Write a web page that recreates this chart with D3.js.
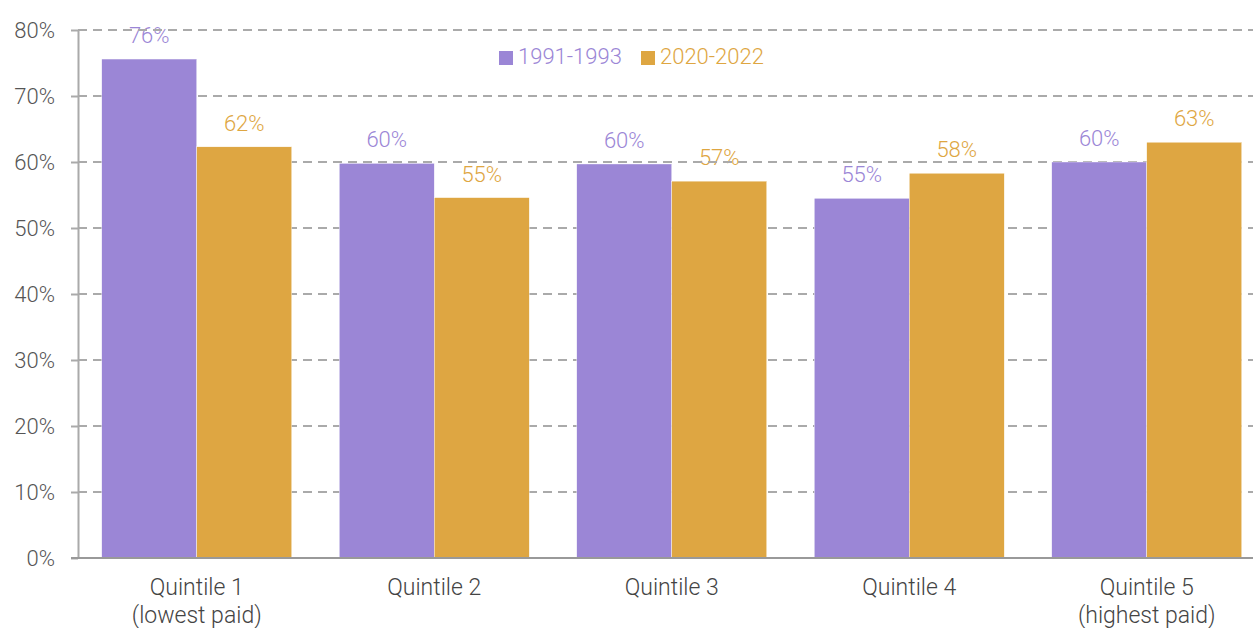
<!DOCTYPE html>
<html lang="en">
<head>
    <meta charset="UTF-8">
    <title>Quintiles</title>
    <script src="https://d3js.org/d3.v7.min.js"></script>
    <style>
        body {margin: 0; background: #fff;}
        text {font-family: Roboto, "Noto Sans", sans-serif; font-weight: 300;}
    </style>
</head>
<body>
<script>
    const width  = 1253;
    const height = 628;

    const categories = [["Quintile 1", "(lowest paid)"], ["Quintile 2"], ["Quintile 3"], ["Quintile 4"], ["Quintile 5", "(highest paid)"]];
    const seriesNames = ["1991-1993", "2020-2022"];
    const early = [75.6, 59.8, 59.7, 54.5, 60.0];
    const late  = [62.3, 54.6, 57.1, 58.3, 63.0];
    const labelsEarly = ["76%", "60%", "60%", "55%", "60%"];
    const labelsLate  = ["62%", "55%", "57%", "58%", "63%"];
    const yTicks = [0, 10, 20, 30, 40, 50, 60, 70, 80];

    const colors = ["#9b86d6", "#dea642"];
    const series = [early, late];
    const labels = [labelsEarly, labelsLate];

    const plotLeft = 78, plotTop = 30, plotBottom = 558;

    const x = d3.scaleBand()
            .domain(d3.range(categories.length))
            .range([plotLeft, 1265.5])
            .paddingInner(0.2)
            .paddingOuter(0.1);

    const xSub = d3.scaleBand()
            .domain([0, 1])
            .range([0, x.bandwidth()]);

    const y = d3.scaleLinear().domain([0, 80]).range([plotBottom, plotTop]);

    const svg = d3.select("body").append("svg").attr("width", width).attr("height", height);

    // value labels (sit under the grid lines)
    series.forEach((vals, s) => {
        svg.append("g").selectAll("text")
            .data(vals)
            .join("text")
            .attr("x", (d, i) => x(i) + xSub(s) + xSub.bandwidth() / 2)
            .attr("y", d => y(d) - 16)
            .attr("text-anchor", "middle")
            .attr("font-size", 22)
            .attr("fill", colors[s])
            .text((d, i) => labels[s][i]);
    });

    // grid
    svg.append("g").selectAll("line")
        .data(yTicks.filter(t => t > 0))
        .join("line")
        .attr("x1", plotLeft).attr("x2", width)
        .attr("y1", d => y(d)).attr("y2", d => y(d))
        .attr("stroke", "#aaa")
        .attr("stroke-width", 2)
        .attr("stroke-dasharray", "9,6");

    // bars
    series.forEach((vals, s) => {
        svg.append("g").selectAll("rect")
            .data(vals)
            .join("rect")
            .attr("x", (d, i) => x(i) + xSub(s))
            .attr("y", d => y(d))
            .attr("width", xSub.bandwidth())
            .attr("height", d => y(0) - y(d))
            .attr("fill", colors[s])
            .attr("stroke", "#fff")
            .attr("stroke-width", 0.4);
    });

    // y axis
    const yAxis = d3.axisLeft(y).tickValues(yTicks).tickFormat(d => d + "%").tickSize(7).tickSizeOuter(0);
    const gy = svg.append("g").attr("transform", "translate(" + plotLeft + ",0)").call(yAxis);
    gy.attr("font-family", null).attr("font-size", null);
    gy.select(".domain").attr("stroke", "#aaa").attr("stroke-width", 2);
    gy.selectAll(".tick line").attr("stroke", "#aaa").attr("stroke-width", 2);
    gy.selectAll(".tick text")
        .attr("x", -23)
        .attr("font-size", 22)
        .attr("fill", "#555");

    // x baseline
    svg.append("line")
        .attr("x1", plotLeft - 7).attr("x2", width)
        .attr("y1", y(0)).attr("y2", y(0))
        .attr("stroke", "#999").attr("stroke-width", 2);

    // category labels
    const cat = svg.append("g").selectAll("text")
        .data(categories)
        .join("text")
        .attr("x", (d, i) => x(i) + x.bandwidth() / 2)
        .attr("y", 595)
        .attr("text-anchor", "middle")
        .attr("font-size", 23)
        .attr("fill", "#444");
    cat.selectAll("tspan")
        .data(d => d)
        .join("tspan")
        .attr("x", function() { return this.parentNode.getAttribute("x"); })
        .attr("dy", (d, i) => i === 0 ? 0 : 28)
        .text(d => d);

    // legend
    const legend = svg.append("g");
    const legendX = [499, 641];
    seriesNames.forEach((name, s) => {
        legend.append("rect")
            .attr("x", legendX[s]).attr("y", 51)
            .attr("width", 14).attr("height", 14)
            .attr("fill", colors[s]);
        legend.append("text")
            .attr("x", legendX[s] + 19).attr("y", 64)
            .attr("font-size", 22)
            .attr("fill", colors[s])
            .text(name);
    });
</script>
</body>
</html>
